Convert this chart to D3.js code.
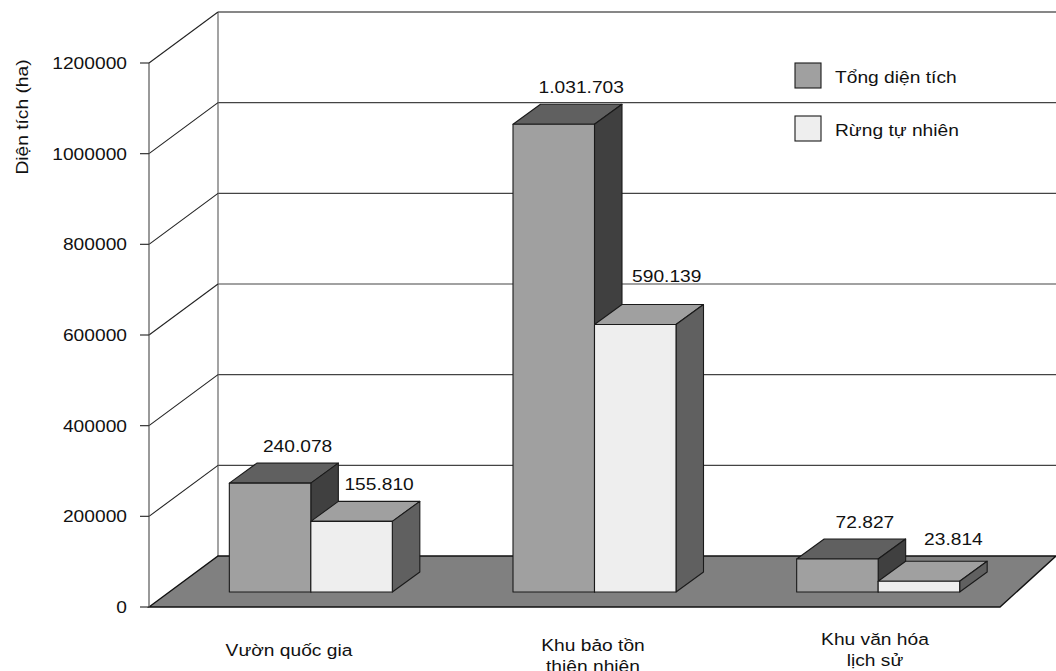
<!DOCTYPE html>
<html>
<head>
<meta charset="utf-8">
<script src="https://cdn.jsdelivr.net/npm/d3@7"></script>
<style>
  html, body { margin: 0; padding: 0; background: #fff; }
  svg { display: block; }
  text { font-family: "Liberation Sans", Arial, Helvetica, sans-serif; fill: #111; }
</style>
</head>
<body>
<svg id="chart" width="1056" height="671"></svg>
<script>
// Protected-area categories (label lines) and the two series, in hectares
const categoryLines = [["Vườn quốc gia"], ["Khu bảo tồn", "thiên nhiên"], ["Khu văn hóa", "lịch sử"]];
const seriesNames = ["Tổng diện tích", "Rừng tự nhiên"];
const totalArea = [240078, 1031703, 72827];
const naturalForest = [155810, 590139, 23814];
const yTicks = [0, 200000, 400000, 600000, 800000, 1000000, 1200000];
const yTitle = "Diện tích (ha)";

// ---- layout ----
const frontLeft = 149, frontRight = 1000, floorY = 607, axisTop = 63;
const wallDX = 69, wallDY = -51;          // depth of the floor / side wall
const wallRight = 1056;
const barShiftX = 20, barShiftY = -15;     // bars stand a little behind the floor's front edge
const barDX = 27.5, barDY = -20;           // depth of each bar
const pairWidth = 163;
const textStretch = 1.13;
const faceColors = [
  { front: "#a0a0a0", top: "#606060", side: "#404040" },
  { front: "#eeeeee", top: "#a0a0a0", side: "#606060" }
];
const catLabelX = [289, 593, 875];
const valueNudge = [[[0, 0], [0, 0]], [[0, 0], [4, -11]], [[0, 0], [7, -5]]];

const svg = d3.select("#chart");
const thousands = d3.formatLocale({ decimal: ",", thousands: ".", grouping: [3], currency: ["", ""] }).format(",");

const y = d3.scaleLinear().domain([0, 1200000]).range([floorY, axisTop]);
const x = d3.scaleBand().domain(d3.range(categoryLines.length)).range([frontLeft, frontRight]);
const xInner = d3.scaleBand().domain([0, 1]).range([0, pairWidth]);

function stretchedText(g, px, py, str, anchor, size, extra) {
  return g.append("text")
    .attr("transform", `translate(${px},${py})${extra || ""} scale(${textStretch},1)`)
    .attr("text-anchor", anchor)
    .attr("font-size", size)
    .text(str);
}

// ---- back wall gridlines ----
const wall = svg.append("g");
wall.selectAll("line.grid")
  .data(yTicks.filter(v => v > 0))
  .join("line")
  .attr("x1", frontLeft + wallDX).attr("x2", wallRight)
  .attr("y1", v => y(v) + wallDY).attr("y2", v => y(v) + wallDY)
  .attr("stroke", v => v === 1200000 ? "#111" : "#444")
  .attr("stroke-width", 1.2);

// back wall left edge
wall.append("line")
  .attr("x1", frontLeft + wallDX).attr("x2", frontLeft + wallDX)
  .attr("y1", y(1200000) + wallDY).attr("y2", y(0) + wallDY)
  .attr("stroke", "#666").attr("stroke-width", 1.2);

// side wall diagonals
wall.selectAll("line.diag")
  .data(yTicks.filter(v => v > 0))
  .join("line")
  .attr("x1", frontLeft).attr("y1", v => y(v))
  .attr("x2", frontLeft + wallDX).attr("y2", v => y(v) + wallDY)
  .attr("stroke", "#222").attr("stroke-width", 1.1);

// ---- floor ----
svg.append("path")
  .attr("d", d3.line()([
    [frontLeft, y(0)], [frontLeft + wallDX, y(0) + wallDY],
    [wallRight, y(0) + wallDY], [frontRight, y(0)]
  ]) + "Z")
  .attr("fill", "#808080").attr("stroke", "#111").attr("stroke-width", 1.4);

// ---- vertical axis ----
const axis = svg.append("g");
axis.append("line")
  .attr("x1", frontLeft).attr("x2", frontLeft)
  .attr("y1", y(1200000)).attr("y2", y(0))
  .attr("stroke", "#555").attr("stroke-width", 1.2);
axis.selectAll("line.tick")
  .data(yTicks).join("line")
  .attr("x1", frontLeft - 9).attr("x2", frontLeft)
  .attr("y1", v => y(v)).attr("y2", v => y(v))
  .attr("stroke", "#333").attr("stroke-width", 1.2);
yTicks.forEach(v => stretchedText(axis, frontLeft - 22, y(v) + 6, String(v), "end", 17));
stretchedText(axis, 28, 117, yTitle, "middle", 17, " rotate(-90)");

// ---- bars ----
const series = [totalArea, naturalForest];
const bars = svg.append("g");
categoryLines.forEach((_, i) => {
  const left = x(i) + x.bandwidth() / 2 - pairWidth / 2;
  series.forEach((vals, j) => {
    const v = vals[i];
    const xl = left + xInner(j) + barShiftX;
    const xr = xl + xInner.bandwidth();
    const yb = y(0) + barShiftY;
    const yt = y(v) + barShiftY;
    const c = faceColors[j];
    const g = bars.append("g").attr("stroke", "#1a1a1a").attr("stroke-width", 1.1).attr("stroke-linejoin", "round");
    g.append("path").attr("fill", c.top)
      .attr("d", d3.line()([[xl, yt], [xl + barDX, yt + barDY], [xr + barDX, yt + barDY], [xr, yt]]) + "Z");
    g.append("path").attr("fill", c.side)
      .attr("d", d3.line()([[xr, yt], [xr + barDX, yt + barDY], [xr + barDX, yb + barDY], [xr, yb]]) + "Z");
    g.append("rect").attr("fill", c.front)
      .attr("x", xl).attr("y", yt).attr("width", xr - xl).attr("height", yb - yt);
  });
});

// ---- value labels ----
const labels = svg.append("g");
categoryLines.forEach((_, i) => {
  const left = x(i) + x.bandwidth() / 2 - pairWidth / 2;
  series.forEach((vals, j) => {
    const v = vals[i];
    const cx = left + xInner(j) + barShiftX + xInner.bandwidth() / 2 + barDX + valueNudge[i][j][0];
    const cy = y(v) + barShiftY + barDY - 11 + valueNudge[i][j][1];
    stretchedText(labels, cx, cy, thousands(v), "middle", 17);
  });
});

// ---- category labels ----
const cats = svg.append("g");
categoryLines.forEach((lines, i) => {
  lines.forEach((ln, k) => {
    stretchedText(cats, catLabelX[i], 656 - 5.5 * i + k * 21, ln, "middle", 17);
  });
});

// ---- legend ----
const legend = svg.append("g");
seriesNames.forEach((name, j) => {
  const ly = 63 + j * 53;
  legend.append("rect")
    .attr("x", 795).attr("y", ly).attr("width", 26).attr("height", 25)
    .attr("fill", faceColors[j].front).attr("stroke", "#1a1a1a").attr("stroke-width", 1.1);
  stretchedText(legend, 835, ly + 20, name, "start", 17);
});
</script>
</body>
</html>
